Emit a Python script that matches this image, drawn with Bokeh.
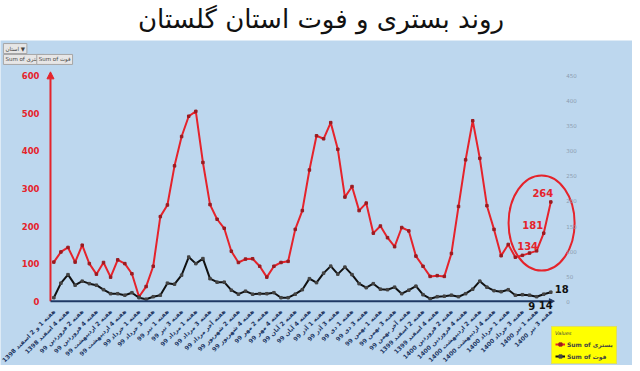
import math
from bokeh.plotting import figure
from bokeh.models import (Range1d, LinearAxis, FixedTicker, Arrow, NormalHead, Label,
                          LabelSet, Legend, LegendItem, Div, ColumnDataSource)
from bokeh.layouts import column
from bokeh.core.properties import value
from bokeh.embed import file_html
from bokeh.resources import INLINE

title_text = "روند بستری و فوت استان گلستان"

week_labels = [
    "هفته 1 و 2 اسفند 1398", "هفته 4 اسفند 1398", "هفته 2 فروردین 99", "هفته 4 فروردین 99",
    "هفته 2 اردیبهشت 99", "هفته 4 اردیبهشت 99", "هفته 1 خرداد 99", "هفته 3 خرداد 99",
    "هفته 1 تیر 99", "هفته 3 تیر 99", "هفته 1 مرداد 99", "هفته 3 مرداد 99",
    "هفته آخر مرداد 99", "هفته 2 شهریور 99", "هفته 4 شهریور 99", "هفته 2 مهر 99",
    "هفته 4 مهر 99", "هفته 2 آبان 99", "هفته 4 آبان 99", "هفته 1 آذر 99",
    "هفته 3 آذر 99", "هفته 1 دی 99", "هفته 3 دی 99", "هفته 1 بهمن 99",
    "هفته 3 بهمن 99", "هفته آخر بهمن 99", "هفته 2 اسفند 1399", "هفته 4 اسفند 1399",
    "هفته 2 فروردین 1400", "هفته 4 فروردین 1400", "هفته 2 اردیبهشت 1400", "هفته 4 اردیبهشت 1400",
    "هفته 1 خرداد 1400", "هفته 3 خرداد 1400", "هفته 1 تیر 1400", "هفته 3 تیر 1400",
]

# hospitalised (left axis)
hosp = [104, 131, 143, 104, 149, 100, 72, 103, 64, 110,
        100, 73, 12, 39, 93, 225, 256, 360, 438, 492,
        505, 369, 257, 218, 194, 133, 103, 112, 113, 93,
        64, 93, 103, 106, 191, 241, 349, 440, 432, 475,
        404, 277, 305, 241, 261, 181, 200, 169, 145, 196,
        187, 120, 93, 66, 68, 66, 127, 252, 376, 480,
        380, 254, 191, 121, 151, 117, 122, 128, 134, 181, 264]

# deaths (right axis)
deaths = [7, 36, 53, 32, 40, 35, 32, 23, 15, 15,
          12, 17, 7, 4, 9, 12, 36, 34, 52, 88,
          75, 85, 45, 38, 38, 22, 14, 20, 14, 15,
          15, 17, 7, 7, 14, 23, 45, 37, 56, 70,
          54, 68, 53, 35, 27, 35, 24, 23, 28, 15,
          22, 30, 13, 5, 9, 10, 12, 9, 15, 24,
          40, 28, 21, 19, 23, 12, 13, 12, 9, 14, 18]

left_ticks = [0, 100, 200, 300, 400, 500, 600]
right_ticks = [0, 50, 100, 150, 200, 250, 300, 350, 400, 450]

BG = "#BDD7EE"
RED = "#E5232B"
NAVY = "#1F3864"
FONT = "DejaVu Sans"

n = len(hosp)
xs = list(range(n))
tick_pos = list(range(0, n, 2))
overrides = {t: lab for t, lab in zip(tick_pos, week_labels)}

W, H = 632, 325
# ranges chosen so the plotting frame fills the whole figure
X0 = -7.51
X1 = X0 + W / 7.1
Y1 = 693.4
Y0 = Y1 - H / 0.376
RATIO = 0.75  # right axis units per left axis unit
LEFT_AXIS_X = -0.47
YTOP = 610

p = figure(width=W, height=H, output_backend="svg", toolbar_location=None,
           x_range=Range1d(X0, X1), y_range=Range1d(Y0, Y1),
           min_border_left=0, min_border_right=0, min_border_top=0, min_border_bottom=0)
p.extra_y_ranges = {"right": Range1d(Y0 * RATIO, Y1 * RATIO)}
p.background_fill_color = BG
p.border_fill_color = BG
p.outline_line_color = None
p.grid.visible = False

# x axis (sits on the zero line)
p.xaxis.fixed_location = 0
p.xaxis.ticker = FixedTicker(ticks=tick_pos)
p.xaxis.major_label_overrides = overrides
p.xaxis.major_label_orientation = math.pi / 4
p.xaxis.major_label_text_color = NAVY
p.xaxis.major_label_text_font = FONT
p.xaxis.major_label_text_font_style = "bold"
p.xaxis.major_label_text_font_size = "6px"
p.xaxis.major_label_standoff = 3
p.xaxis.axis_line_color = None
p.xaxis.major_tick_line_color = None
p.xaxis.minor_tick_line_color = None

# left axis
p.yaxis.fixed_location = LEFT_AXIS_X
p.yaxis.ticker = FixedTicker(ticks=left_ticks)
p.yaxis.major_label_text_color = RED
p.yaxis.major_label_text_font = FONT
p.yaxis.major_label_text_font_style = "bold"
p.yaxis.major_label_text_font_size = "8.5px"
p.yaxis.major_label_standoff = 5
p.yaxis.axis_line_color = None
p.yaxis.major_tick_line_color = None
p.yaxis.minor_tick_line_color = None

# right axis
raxis = LinearAxis(y_range_name="right", ticker=FixedTicker(ticks=right_ticks),
                   fixed_location=n - 0.1)
raxis.major_label_text_color = "#8C9DB0"
raxis.major_label_text_font = FONT
raxis.major_label_text_font_size = "5.5px"
raxis.major_label_standoff = 3
raxis.axis_line_color = None
raxis.major_tick_line_color = None
raxis.minor_tick_line_color = None
p.add_layout(raxis, "right")

# axis arrows
p.add_layout(Arrow(end=NormalHead(size=7, fill_color=RED, line_color=RED),
                   x_start=LEFT_AXIS_X, y_start=0, x_end=LEFT_AXIS_X, y_end=YTOP,
                   line_color=RED, line_width=2))
p.add_layout(Arrow(end=NormalHead(size=5, fill_color=NAVY, line_color=NAVY),
                   x_start=LEFT_AXIS_X, y_start=0, x_end=n - 0.5, y_end=0,
                   line_color=NAVY, line_width=2))

src = ColumnDataSource(dict(x=xs, hosp=hosp, deaths=deaths))
r_red = p.line("x", "hosp", source=src, line_color=RED, line_width=2)
s_red = p.scatter("x", "hosp", source=src, marker="square", size=2.5,
                  fill_color="#9B1B20", line_color="#9B1B20")
r_blk = p.line("x", "deaths", source=src, y_range_name="right", line_color="#111111", line_width=2)
s_blk = p.scatter("x", "deaths", source=src, y_range_name="right", marker="square", size=2.5,
                  fill_color="#444444", line_color="#444444")

# highlight ellipse around the last weeks
p.ellipse(x=[n - 2.3], y=[208], width=9.3, height=253, fill_color=None,
          line_color=RED, line_width=2)

# data labels
last = [n - 3, n - 2, n - 1]
red_src = ColumnDataSource(dict(x=last, y=[hosp[i] for i in last],
                                t=[str(hosp[i]) for i in last],
                                dx=[-9, -11, -8], dy=[5, 8, 9]))
p.add_layout(LabelSet(x="x", y="y", text="t", source=red_src, x_offset="dx", y_offset="dy",
                      text_color=RED, text_font=value(FONT), text_font_style="bold",
                      text_font_size="10px", text_align="center", text_baseline="middle"))
blk_src = ColumnDataSource(dict(x=last, y=[deaths[i] for i in last],
                                t=[str(deaths[i]) for i in last],
                                dx=[-5, 2, 11], dy=[-9, -11, 3]))
p.add_layout(LabelSet(x="x", y="y", text="t", source=blk_src, x_offset="dx", y_offset="dy",
                      y_range_name="right",
                      text_color="#111111", text_font=value(FONT), text_font_style="bold",
                      text_font_size="10px", text_align="center", text_baseline="middle"))

# legend
legend = Legend(items=[LegendItem(label="Sum of بستری", renderers=[r_red, s_red]),
                       LegendItem(label="Sum of فوت", renderers=[r_blk, s_blk])],
                location=(551, 1), background_fill_color="#FFFF00", background_fill_alpha=1,
                border_line_color="#BFBFBF", label_text_font=FONT,
                label_text_font_size="6px", label_text_font_style="bold",
                glyph_width=10, glyph_height=8, label_height=8, label_standoff=2,
                spacing=4, padding=3, margin=0,
                title="Values", title_text_font_size="5px", title_text_font=FONT,
                title_text_color="#444444", title_standoff=4)
p.add_layout(legend)

# pivot buttons (top-left)
btn = dict(text_font=FONT, text_font_size="5.5px", background_fill_color="#E7E6E6",
           border_line_color="#A6A6A6", text_baseline="middle", padding=2)
p.add_layout(Label(x=-7.1, y=672, text="استان ▼", **btn))
p.add_layout(Label(x=-7.1, y=643, text="Sum of بستری", **btn))
p.add_layout(Label(x=-2.4, y=643, text="Sum of فوت", **btn))

title = Div(text=title_text, width=W, height=30,
            styles={"text-align": "center", "font-size": "26px", "font-family": FONT,
                    "line-height": "28px", "background-color": "white", "color": "#111111",
                    "width": f"{W}px", "direction": "rtl"})

layout = column(title, p, spacing=0)
open("out.html", "w").write(file_html(layout, INLINE))
